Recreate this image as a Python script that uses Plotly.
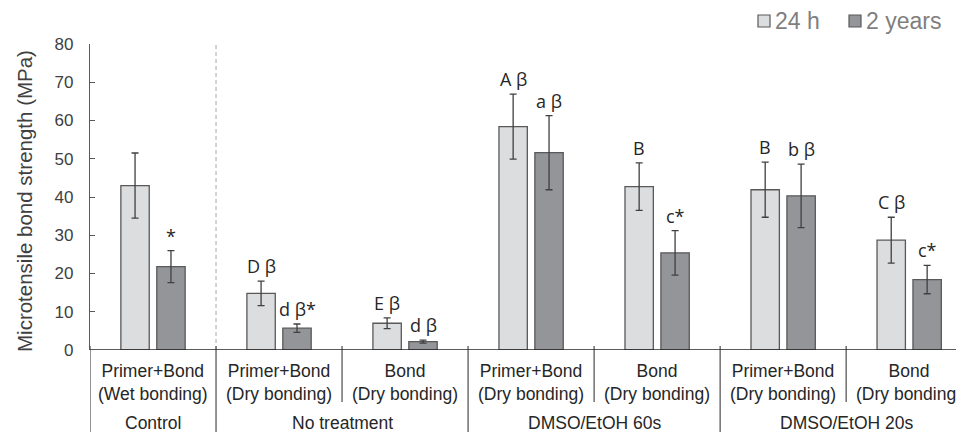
import plotly.graph_objects as go

# ---- data ----
groups = ["Primer+Bond<br>(Wet bonding)", "Primer+Bond<br>(Dry bonding)", "Bond<br>(Dry bonding)",
          "Primer+Bond<br>(Dry bonding)", "Bond<br>(Dry bonding)",
          "Primer+Bond<br>(Dry bonding)", "Bond<br>(Dry bonding)"]
supergroups = ["Control", "No treatment", "DMSO/EtOH 60s", "DMSO/EtOH 20s"]
super_span = [(0, 0), (1, 2), (3, 4), (5, 6)]
series_names = ["24 h", "2 years"]
h24 = [43.0, 14.8, 7.0, 58.4, 42.7, 41.9, 28.7]
h24_err = [8.5, 3.2, 1.4, 8.5, 6.2, 7.2, 6.0]
y2 = [21.8, 5.7, 2.2, 51.6, 25.4, 40.3, 18.4]
y2_err = [4.2, 1.1, 0.4, 9.7, 5.8, 8.3, 3.7]
h24_lab = ["", "D β", "E β", "A β", "B", "B", "C β"]
y2_lab = ["*", "d β*", "d β", "a β", "c*", "b β", "c*"]
yticks = [0, 10, 20, 30, 40, 50, 60, 70, 80]

x = list(range(len(groups)))
colors = ["#DCDDDF", "#939598"]

# ---- layout geometry (pixels in the 964x432 window; page body has an 8px margin) ----
OFF = 8
W, H = 964 - OFF, 432 - OFF
L, T, B_AX, R_EDGE = 90, 44, 350, 964
PH = B_AX - T
PW = R_EDGE - L
def py(p):
    return (B_AX - p) / PH
def px(p):
    return (p - L) / PW

fig = go.Figure()
bar_line = dict(color="#595959", width=1.3)
err_style = dict(thickness=1.3, width=3.5, color="#404040")
fig.add_trace(go.Bar(x=x, y=h24, name=series_names[0], marker=dict(color=colors[0], line=bar_line),
                     error_y=dict(type="data", array=h24_err, **err_style)))
fig.add_trace(go.Bar(x=x, y=y2, name=series_names[1], marker=dict(color=colors[1], line=bar_line),
                     error_y=dict(type="data", array=y2_err, **err_style)))

ann = []
lab_font = dict(family="Open Sans, Liberation Sans, sans-serif", size=18, color="#262626")
for i in x:
    if h24_lab[i]:
        ann.append(dict(x=i - 0.143, y=h24[i] + h24_err[i], text=h24_lab[i], xref="x", yref="y",
                        showarrow=False, yanchor="bottom", yshift=1, font=lab_font))
    if y2_lab[i]:
        ann.append(dict(x=i + 0.143, y=y2[i] + y2_err[i], text=y2_lab[i], xref="x", yref="y",
                        showarrow=False, yanchor="bottom", yshift=1, font=lab_font))

cat_font = dict(family="Liberation Sans, Arial, sans-serif", size=17.5, color="#262626")
for i, g in enumerate(groups):
    ann.append(dict(x=i, y=py(382), text=g, xref="x", yref="paper", showarrow=False,
                    xanchor="center", yanchor="middle", font=cat_font))
for (a, b), s in zip(super_span, supergroups):
    ann.append(dict(x=(a + b) / 2, y=py(423), text=s, xref="x", yref="paper", showarrow=False,
                    xanchor="center", yanchor="middle", font=cat_font))

ann.append(dict(x=px(24), y=py(201), xref="paper", yref="paper", text="Microtensile bond strength (MPa)",
                textangle=-90, showarrow=False, xanchor="center", yanchor="middle",
                font=dict(family="Liberation Sans, Arial, sans-serif", size=20.5, color="#404040")))

shapes = []
# dashed separator between control and others
shapes.append(dict(type="line", xref="x", yref="y", x0=0.5, x1=0.5, y0=0, y1=80,
                   line=dict(color="#A6A6A6", width=1, dash="4px,3px")))
sep_color = "#595959"
long_b = [-0.5] + [b + 0.5 for (a, b) in super_span]
short_b = [b + 0.5 for b in range(len(groups) - 1) if (b + 0.5) not in long_b]
for bx in long_b:
    shapes.append(dict(type="line", xref="x", yref="paper", x0=bx, x1=bx, y0=py(440), y1=py(346),
                       line=dict(color=sep_color, width=1.3)))
for bx in short_b:
    shapes.append(dict(type="line", xref="x", yref="paper", x0=bx, x1=bx, y0=py(402), y1=py(346),
                       line=dict(color=sep_color, width=1.3)))

# manual legend
leg_font = dict(family="Liberation Sans, Arial, sans-serif", size=23, color="#7F7F7F")
leg_sq = [758, 849]
for sx, name, c in zip(leg_sq, series_names, colors):
    shapes.append(dict(type="rect", xref="paper", yref="paper", x0=px(sx), x1=px(sx + 12),
                       y0=py(27), y1=py(15), fillcolor=c, line=dict(color="#595959", width=1.2)))
    ann.append(dict(x=px(sx + 15), y=py(21), xref="paper", yref="paper", text=name, showarrow=False,
                    xanchor="left", yanchor="middle", font=leg_font))

fig.update_layout(
    width=W, height=H,
    margin=dict(l=L - OFF, r=0, t=T - OFF, b=H - (B_AX - OFF), pad=0),
    paper_bgcolor="white", plot_bgcolor="white",
    barmode="group", bargap=0.43, bargroupgap=0.21,
    annotations=ann, shapes=shapes,
    showlegend=False,
    xaxis=dict(range=[-0.5, 6.435], showticklabels=False, showgrid=False, zeroline=False,
               showline=False, ticks=""),
    yaxis=dict(range=[0, 80], tickvals=yticks, showgrid=False, zeroline=False,
               showline=True, linecolor="#595959", linewidth=1.3, ticks="inside", ticklen=5,
               tickcolor="#595959", tickwidth=1.3,
               tickfont=dict(family="Liberation Sans, Arial, sans-serif", size=17, color="#404040"),
               ticklabelstandoff=12),
)
# x axis baseline
fig.add_shape(type="line", xref="paper", yref="y", x0=0, x1=1, y0=0, y1=0,
              line=dict(color="#262626", width=1.5))
fig.write_html("out.html")
